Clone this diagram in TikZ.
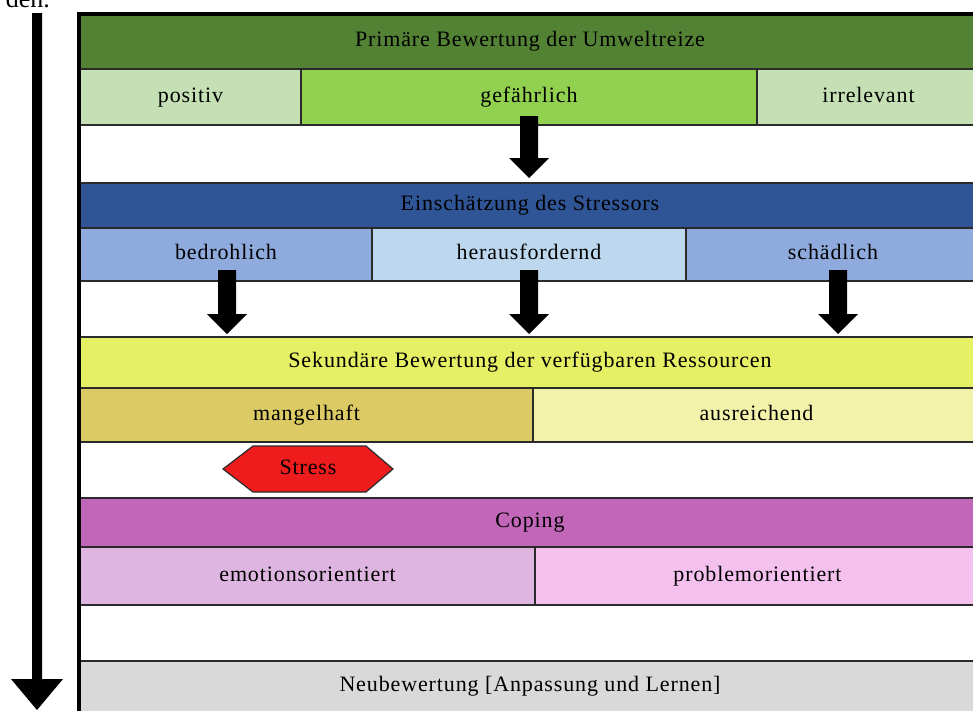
\documentclass[tikz,border=0pt]{standalone}
\usepackage{fontspec}
\setmainfont{Liberation Serif}
\usetikzlibrary{shapes.geometric}
\definecolor{dgreen}{HTML}{548235}
\definecolor{lgreen}{HTML}{C5E0B4}
\definecolor{mgreen}{HTML}{92D050}
\definecolor{dblue}{HTML}{2F5597}
\definecolor{mblue}{HTML}{8FAADC}
\definecolor{lblue}{HTML}{BDD7EE}
\definecolor{yel}{HTML}{E6F064}
\definecolor{dyel}{HTML}{DCCB64}
\definecolor{lyel}{HTML}{F2F2AA}
\definecolor{purp}{HTML}{C266B9}
\definecolor{lpurp}{HTML}{DDB5E0}
\definecolor{pink}{HTML}{F4C1EE}
\definecolor{lgray}{HTML}{D9D9D9}
\definecolor{sred}{HTML}{EE1C1C}
\definecolor{edge}{HTML}{2A2A2A}
\newcommand\barrow[4]{% x, ytop, yhead, ytip
  \fill[black] (#1-9,#2) -- (#1+9,#2) -- (#1+9,#3) -- (#1+20,#3) -- (#1,#4) -- (#1-20,#3) -- (#1-9,#3) -- cycle;}
\tikzset{
  lbl/.style={font=\fontsize{22}{26}\selectfont\addfontfeatures{LetterSpace=4}, text=black,
    text height=15pt, text depth=5pt},
  cell/.style={lbl, draw=edge, line width=2pt, anchor=north west, inner sep=0pt, outer sep=0pt},
}
\begin{document}
\begin{tikzpicture}[x=1pt,y=-1pt]
\useasboundingbox (0,0) rectangle (973,710);
\clip (0,0) rectangle (973,710);
\fill[white] (0,0) rectangle (973,710);
\node[anchor=base east, font=\fontsize{26}{30}\selectfont, inner sep=0pt] (den) at (50,7) {den.};
% rows
\node[cell, fill=dgreen, minimum width=900pt, minimum height=55pt] (r1) at (80,14) {Primäre Bewertung der Umweltreize};
\node[cell, fill=lgreen, minimum width=221pt, minimum height=56pt] (pos) at (80,69) {positiv};
\node[cell, fill=mgreen, minimum width=456pt, minimum height=56pt] (gef) at (301,69) {gefährlich};
\node[cell, fill=lgreen, minimum width=223pt, minimum height=56pt] (irr) at (757,69) {irrelevant};
\node[cell, fill=dblue, minimum width=900pt, minimum height=45pt] (r3) at (80,183) {Einschätzung des Stressors};
\node[cell, fill=mblue, minimum width=292pt, minimum height=53pt] (bed) at (80,228) {bedrohlich};
\node[cell, fill=lblue, minimum width=314pt, minimum height=53pt] (her) at (372,228) {herausfordernd};
\node[cell, fill=mblue, minimum width=294pt, minimum height=53pt] (sch) at (686,228) {schädlich};
\node[cell, fill=yel, minimum width=900pt, minimum height=51pt] (r5) at (80,337) {Sekundäre Bewertung der verfügbaren Ressourcen};
\node[cell, fill=dyel, minimum width=453pt, minimum height=54pt] (man) at (80,388) {mangelhaft};
\node[cell, fill=lyel, minimum width=447pt, minimum height=54pt] (aus) at (533,388) {ausreichend};
\node[cell, fill=purp, minimum width=900pt, minimum height=49pt] (r7) at (80,498) {Coping};
\node[cell, fill=lpurp, minimum width=455pt, minimum height=58pt] (emo) at (80,547) {emotionsorientiert};
\node[cell, fill=pink, minimum width=445pt, minimum height=58pt] (pro) at (535,547) {problemorientiert};
\node[cell, fill=lgray, minimum width=900pt, minimum height=51pt] (r9) at (80,661) {Neubewertung [Anpassung und Lernen]};
% outer frame
\draw[black, line width=4pt] (79,720) -- (79,14) -- (980,14);
% stress hexagon
\filldraw[fill=sred, draw=edge, line width=1.2pt] (223,469) -- (253,446) -- (366,446) -- (393,469) -- (366,492) -- (253,492) -- cycle;
\node[lbl, inner sep=0pt] (stress) at (308,469) {Stress};
% block arrows
\barrow{529}{116}{158}{178}
\barrow{227}{270}{314}{334}
\barrow{529}{270}{314}{334}
\barrow{838}{270}{314}{334}
% time arrow
\fill[black] (32,13) -- (42,13) -- (42,679) -- (63,679) -- (37,710) -- (11,679) -- (32,679) -- cycle;
\end{tikzpicture}
\end{document}
